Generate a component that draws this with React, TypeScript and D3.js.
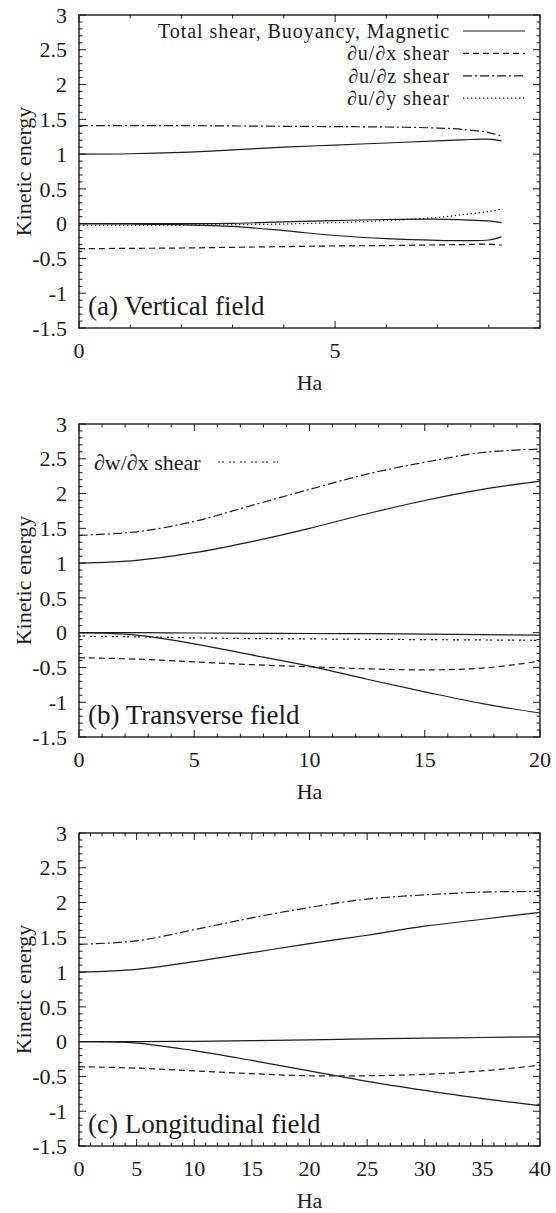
import { useRef, useEffect } from 'react';
import { select, scaleLinear, line, curveCatmullRom, range } from 'd3';

// Panel (a) - vertical field
const haA = [0, 1, 2, 3, 4, 5, 6, 7, 7.5, 8, 8.25];
const aTotal = [1.0, 1.005, 1.025, 1.06, 1.1, 1.13, 1.16, 1.19, 1.205, 1.215, 1.19];
const aBuoy = [0, 0, 0, 0.005, 0.025, 0.045, 0.06, 0.065, 0.055, 0.04, 0.015];
const aMag = [0, -0.005, -0.015, -0.04, -0.1, -0.17, -0.215, -0.24, -0.245, -0.235, -0.19];
const aDudx = [-0.36, -0.355, -0.35, -0.34, -0.33, -0.32, -0.315, -0.305, -0.3, -0.295, -0.31];
const aDudz = [1.41, 1.41, 1.41, 1.405, 1.4, 1.395, 1.39, 1.375, 1.355, 1.31, 1.26];
const aDudy = [-0.025, -0.025, -0.02, -0.015, -0.005, 0.015, 0.045, 0.09, 0.13, 0.175, 0.21];

// Panel (b) - transverse field
const haB = [0, 2.5, 5, 7.5, 10, 12.5, 15, 17.5, 20];
const bTotal = [1.0, 1.04, 1.15, 1.31, 1.5, 1.71, 1.9, 2.06, 2.18];
const bBuoy = [0, 0, -0.005, -0.01, -0.012, -0.015, -0.02, -0.028, -0.035];
const bMag = [0, -0.035, -0.16, -0.32, -0.48, -0.67, -0.85, -1.02, -1.155];
const bDudx = [-0.36, -0.38, -0.42, -0.46, -0.49, -0.52, -0.535, -0.51, -0.41];
const bDudz = [1.4, 1.45, 1.6, 1.83, 2.06, 2.28, 2.45, 2.59, 2.64];
const bDwdx = [-0.05, -0.06, -0.075, -0.085, -0.09, -0.095, -0.1, -0.105, -0.11];

// Panel (c) - longitudinal field
const haC = [0, 5, 10, 15, 20, 25, 30, 35, 40];
const cTotal = [1.0, 1.04, 1.15, 1.28, 1.41, 1.53, 1.66, 1.76, 1.86];
const cBuoy = [0, 0, 0.005, 0.015, 0.025, 0.04, 0.05, 0.06, 0.07];
const cMag = [0, -0.02, -0.13, -0.27, -0.42, -0.57, -0.7, -0.82, -0.92];
const cDudx = [-0.36, -0.38, -0.42, -0.46, -0.49, -0.49, -0.47, -0.42, -0.34];
const cDudz = [1.4, 1.45, 1.61, 1.78, 1.93, 2.05, 2.11, 2.15, 2.16];

// Axis ticks
const yTickLabels = ['3', '2.5', '2', '1.5', '1', '0.5', '0', '-0.5', '-1', '-1.5'];
const xTicksA = [0, 5];
const xTicksB = [0, 5, 10, 15, 20];
const xTicksC = [0, 5, 10, 15, 20, 25, 30, 35, 40];

// Legend
const legendA = ['Total shear, Buoyancy, Magnetic', '\u2202u/\u2202x shear', '\u2202u/\u2202z shear', '\u2202u/\u2202y shear'];
const legendB = ['\u2202w/\u2202x shear'];

const STYLES: Record<string, string> = {
    solid: 'none',
    dash: '6,4',
    dashdot: '9,3,2,3',
    dot: '1.4,2.6',
    dotdot: '2.2,1.6,2.2,5',
};

function App() {
    const svgRef = useRef<SVGSVGElement | null>(null);

    // Set dimensions
    const width = 556;
    const height = 1213;
    const left = 79;
    const right = 540;
    const plotH = 313;
    const ink = '#1c1c1c';

    useEffect(() => {
        const svg = select(svgRef.current);
        svg.selectAll('*').remove();

        const panels = [
            {
                top: 15, xMax: 9, ha: haA, xTicks: xTicksA, label: '(a) Vertical field',
                series: [
                    { v: aDudz, s: 'dashdot' }, { v: aTotal, s: 'solid' }, { v: aBuoy, s: 'solid' },
                    { v: aMag, s: 'solid' }, { v: aDudx, s: 'dash' }, { v: aDudy, s: 'dot' },
                ],
            },
            {
                top: 424, xMax: 20, ha: haB, xTicks: xTicksB, label: '(b) Transverse field',
                series: [
                    { v: bDudz, s: 'dashdot' }, { v: bTotal, s: 'solid' }, { v: bBuoy, s: 'solid' },
                    { v: bMag, s: 'solid' }, { v: bDudx, s: 'dash' }, { v: bDwdx, s: 'dotdot' },
                ],
            },
            {
                top: 833, xMax: 40, ha: haC, xTicks: xTicksC, label: '(c) Longitudinal field',
                series: [
                    { v: cDudz, s: 'dashdot' }, { v: cTotal, s: 'solid' }, { v: cBuoy, s: 'solid' },
                    { v: cMag, s: 'solid' }, { v: cDudx, s: 'dash' },
                ],
            },
        ];

        panels.forEach((p, pi) => {
            const x = scaleLinear().domain([0, p.xMax]).range([left, right]);
            const y = scaleLinear().domain([-1.5, 3]).range([p.top + plotH, p.top]);
            const bottom = p.top + plotH;
            const g = svg.append('g');

            // Curves
            p.series.forEach((s) => {
                const pts = p.ha.map((h, i) => [h, s.v[i]] as [number, number]);
                g.append('path')
                    .attr('d', line<[number, number]>()
                        .x((d) => x(d[0]))
                        .y((d) => y(d[1]))
                        .curve(curveCatmullRom.alpha(0.5))(pts))
                    .attr('fill', 'none')
                    .attr('stroke', ink)
                    .attr('stroke-width', 1.2)
                    .attr('stroke-dasharray', STYLES[s.s]);
            });

            // Minor/major ticks on all four sides
            const yMinor = range(-15, 31).map((k) => k / 10);
            yMinor.forEach((v) => {
                const major = Math.abs(Math.round(v * 2) - v * 2) < 1e-6;
                const len = major ? 7 : 3.5;
                g.append('line').attr('x1', left).attr('x2', left + len)
                    .attr('y1', y(v)).attr('y2', y(v)).attr('stroke', ink).attr('stroke-width', 1);
                g.append('line').attr('x1', right).attr('x2', right - len)
                    .attr('y1', y(v)).attr('y2', y(v)).attr('stroke', ink).attr('stroke-width', 1);
            });
            range(0, p.xMax + 1).forEach((h) => {
                const major = h % 5 === 0;
                const len = major ? 7 : 3.5;
                g.append('line').attr('x1', x(h)).attr('x2', x(h))
                    .attr('y1', bottom).attr('y2', bottom - len).attr('stroke', ink).attr('stroke-width', 1);
                g.append('line').attr('x1', x(h)).attr('x2', x(h))
                    .attr('y1', p.top).attr('y2', p.top + len).attr('stroke', ink).attr('stroke-width', 1);
            });

            // Frame
            g.append('rect')
                .attr('x', left).attr('y', p.top)
                .attr('width', right - left).attr('height', plotH)
                .attr('fill', 'none').attr('stroke', ink).attr('stroke-width', 1.4);

            // Y tick labels
            yTickLabels.forEach((t) => {
                g.append('text')
                    .text(t)
                    .attr('x', 67)
                    .attr('y', y(+t))
                    .attr('dy', '0.35em')
                    .attr('text-anchor', 'end')
                    .attr('font-size', 22).attr('fill', ink);
            });

            // X tick labels
            p.xTicks.forEach((t) => {
                g.append('text')
                    .text(`${t}`)
                    .attr('x', x(t))
                    .attr('y', bottom + 30)
                    .attr('text-anchor', 'middle')
                    .attr('font-size', 22).attr('fill', ink);
            });

            // Axis titles
            g.append('text')
                .text('Ha')
                .attr('x', (left + right) / 2)
                .attr('y', bottom + 62)
                .attr('text-anchor', 'middle')
                .attr('font-size', 22).attr('fill', ink);
            g.append('text')
                .text('Kinetic energy')
                .attr('transform', `translate(31, ${p.top + plotH / 2}) rotate(-90)`)
                .attr('text-anchor', 'middle')
                .attr('font-size', 22).attr('fill', ink);

            // Panel label
            g.append('text')
                .text(p.label)
                .attr('x', 88)
                .attr('y', bottom - 13)
                .attr('font-size', 27).attr('fill', ink);

            // Legends
            if (pi === 0) {
                const styles = ['solid', 'dash', 'dashdot', 'dot'];
                legendA.forEach((t, i) => {
                    const ly = 31 + i * 22.4;
                    g.append('text').text(t)
                        .attr('x', 450).attr('y', ly).attr('dy', '0.35em')
                        .attr('text-anchor', 'end')
                        .attr('font-size', 20)
                        .attr('letter-spacing', 0.95)
                        .attr('fill', ink);
                    g.append('line').attr('x1', 463).attr('x2', 525)
                        .attr('y1', ly).attr('y2', ly)
                        .attr('stroke', ink).attr('stroke-width', 1.2)
                        .attr('stroke-dasharray', STYLES[styles[i]]);
                });
            }
            if (pi === 1) {
                const ly = 462;
                g.append('text').text(legendB[0])
                    .attr('x', 94).attr('y', ly).attr('dy', '0.35em')
                    .attr('font-size', 22).attr('fill', ink);
                g.append('line').attr('x1', 218).attr('x2', 278)
                    .attr('y1', ly).attr('y2', ly)
                    .attr('stroke', ink).attr('stroke-width', 1.2)
                    .attr('stroke-dasharray', STYLES.dotdot);
            }
        });
    }, []);

    return (
        <svg
            ref={svgRef}
            width={width}
            height={height}
            viewBox={`0 0 ${width} ${height}`}
            fontFamily="'Liberation Serif', 'Times New Roman', serif"
            style={{ position: 'absolute', top: 0, left: 0, background: '#fff' }}
        ></svg>
    );
}

export default App;
